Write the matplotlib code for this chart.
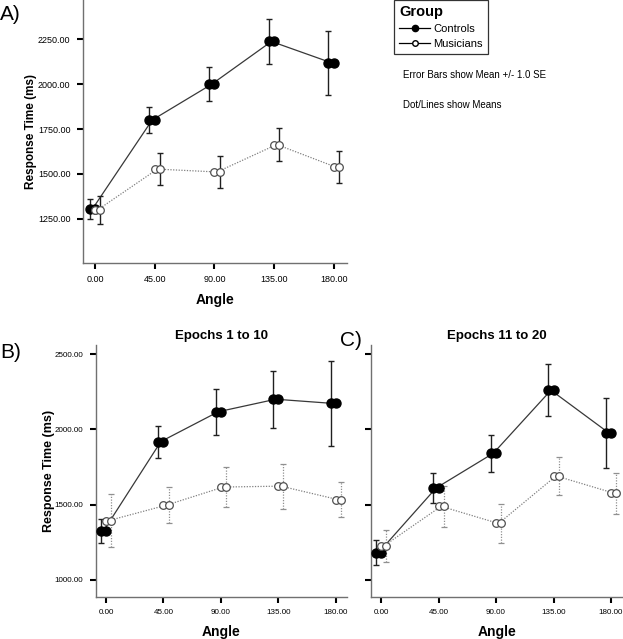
import matplotlib
matplotlib.use("Agg")
import matplotlib.pyplot as plt
from matplotlib.lines import Line2D
import numpy as np

plt.rcParams['font.family'] = ['Liberation Sans', 'DejaVu Sans']

angles = [0, 45, 90, 135, 180]
tick_labels = ["0.00", "45.00", "90.00", "135.00", "180.00"]

# Panel A (all epochs)
a_ctrl = [1305, 1800, 2000, 2238, 2120]
a_ctrl_se = [55, 72, 95, 123, 178]
a_mus = [1300, 1527, 1511, 1664, 1537]
a_mus_se = [78, 87, 90, 93, 90]

# Panel B (epochs 1 to 10)
b_ctrl = [1324, 1919, 2117, 2200, 2172]
b_ctrl_se = [78, 106, 152, 188, 283]
b_mus = [1394, 1496, 1617, 1623, 1533]
b_mus_se = [176, 118, 134, 150, 117]

# Panel C (epochs 11 to 20)
c_ctrl = [1181, 1610, 1842, 2260, 1978]
c_ctrl_se = [82, 98, 122, 174, 232]
c_mus = [1225, 1489, 1375, 1691, 1577]
c_mus_se = [104, 135, 132, 127, 136]

W, H = 623, 639
fig = plt.figure(figsize=(W / 100, H / 100), dpi=100)

def ax_rect(l, t, r, b):
    return [l / W, 1 - b / H, (r - l) / W, (b - t) / H]

OFF = 4.0

def draw_panel(ax, ctrl, ctrl_se, mus, mus_se, mus_err_style, ylim, xlim,
               yticks, yticklabels, tfs):
    x = np.array(angles, dtype=float)
    ax.plot(x - OFF / 2, ctrl, color='#383838', lw=0.9, zorder=2)
    ax.plot(x + OFF / 2, mus, color='#808080', lw=0.9, ls=(0, (1, 1.2)), zorder=2)
    ax.errorbar(x - OFF, ctrl, yerr=ctrl_se, fmt='none', ecolor='#202020',
                elinewidth=1.0, capsize=2.5, capthick=1.0, zorder=3)
    if mus_err_style == 'solid':
        ax.errorbar(x + OFF, mus, yerr=mus_se, fmt='none', ecolor='#202020',
                    elinewidth=1.0, capsize=2.5, capthick=1.0, zorder=3)
    else:
        eb = ax.errorbar(x + OFF, mus, yerr=mus_se, fmt='none', ecolor='#909090',
                         elinewidth=0.9, capsize=2.0, capthick=0.9, zorder=3)
        for lc in eb[2]:
            lc.set_linestyle((0, (1, 1.2)))
    for dx in (-OFF, 0):
        ax.plot(x + dx, ctrl, 'o', ms=6.5, color='black', mec='black', zorder=4, ls='none')
    for dx in (0, OFF):
        ax.plot(x + dx, mus, 'o', ms=5.5, mfc='white', mec='#505050', mew=0.9, zorder=5, ls='none')
    ax.set_xlim(*xlim)
    ax.set_ylim(*ylim)
    ax.set_xticks(angles)
    ax.set_xticklabels(tick_labels, fontsize=tfs)
    ax.set_yticks(yticks)
    ax.set_yticklabels(yticklabels, fontsize=tfs)
    for s in ('top', 'right'):
        ax.spines[s].set_visible(False)
    for s in ('left', 'bottom'):
        ax.spines[s].set_color('#707070')
        ax.spines[s].set_linewidth(1.0)
    ax.tick_params(direction='out', length=4, width=1.5, color='black', pad=5)
    ax.set_xlabel('Angle', fontsize=10, fontweight='bold', labelpad=6)

# Panel A
axA = fig.add_axes(ax_rect(83, 0, 347, 263))
draw_panel(axA, a_ctrl, a_ctrl_se, a_mus, a_mus_se, 'solid',
           (1004, 2469), (-9.1, 190), [1250, 1500, 1750, 2000, 2250],
           ["1250.00", "1500.00", "1750.00", "2000.00", "2250.00"], 6.5)
axA.set_ylabel('Response Time (ms)', fontsize=8.5, fontweight='bold', labelpad=1)

# Panel B
axB = fig.add_axes(ax_rect(96, 345, 347, 597))
draw_panel(axB, b_ctrl, b_ctrl_se, b_mus, b_mus_se, 'dotted',
           (887, 2560), (-7.8, 188.8), [1000, 1500, 2000, 2500],
           ["1000.00", "1500.00", "2000.00", "2500.00"], 5.8)
axB.set_ylabel('Response Time (ms)', fontsize=9, fontweight='bold', labelpad=0)
axB.set_title('Epochs 1 to 10', fontsize=9.5, fontweight='bold', pad=4)

# Panel C
axC = fig.add_axes(ax_rect(370.7, 345, 623, 597))
draw_panel(axC, c_ctrl, c_ctrl_se, c_mus, c_mus_se, 'dotted',
           (887, 2560), (-8.1, 189.4), [1000, 1500, 2000, 2500],
           ["", "", "", ""], 5.8)
axC.set_title('Epochs 11 to 20', fontsize=9.5, fontweight='bold', pad=4)

# Panel letters
fig.text(0 / W, 1 - 14 / H, 'A)', fontsize=15, va='center', ha='left')
fig.text(0 / W, 1 - 352 / H, 'B)', fontsize=15, va='center', ha='left')
fig.text(340 / W, 1 - 341 / H, 'C)', fontsize=15, va='center', ha='left')

# Legend
handles = [
    Line2D([], [], color='black', lw=0.9, marker='o', ms=4.5, mfc='black', mec='black'),
    Line2D([], [], color='black', lw=0.9, marker='o', ms=4.0, mfc='white', mec='black'),
]
leg = fig.legend(handles, ['Controls', 'Musicians'], loc='upper left',
                 bbox_to_anchor=(394 / W, 1.0), fontsize=8, title='Group',
                 title_fontproperties={'weight': 'bold', 'size': 10.5},
                 frameon=True, fancybox=False, edgecolor='black',
                 handlelength=2.8, handletextpad=0.3, borderpad=0.45,
                 labelspacing=0.45, borderaxespad=0)
leg._legend_box.align = 'left'
leg.get_frame().set_linewidth(0.9)

fig.text(403 / W, 1 - 75 / H, 'Error Bars show Mean +/- 1.0 SE', fontsize=7, va='center', ha='left')
fig.text(403 / W, 1 - 105 / H, 'Dot/Lines show Means', fontsize=7, va='center', ha='left')

fig.savefig('out.png', dpi=100, facecolor='white')
